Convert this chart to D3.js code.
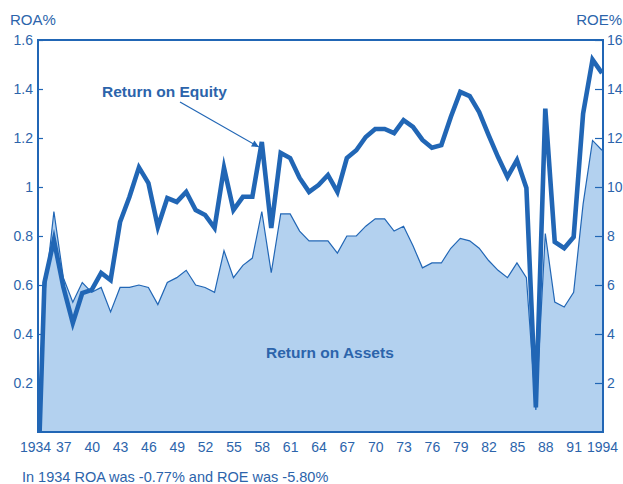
<!DOCTYPE html>
<html>
<head>
<meta charset="utf-8">
<script src="https://cdn.jsdelivr.net/npm/d3@7"></script>
<style>
  body { margin: 0; background: #fff; }
  svg { display: block; font-family: "Liberation Sans", Arial, sans-serif; }
</style>
</head>
<body>
<div id="chart"></div>
<script>
const years = [1934, 1935, 1936, 1937, 1938, 1939, 1940, 1941, 1942, 1943,
    1944, 1945, 1946, 1947, 1948, 1949, 1950, 1951, 1952, 1953,
    1954, 1955, 1956, 1957, 1958, 1959, 1960, 1961, 1962, 1963,
    1964, 1965, 1966, 1967, 1968, 1969, 1970, 1971, 1972, 1973,
    1974, 1975, 1976, 1977, 1978, 1979, 1980, 1981, 1982, 1983,
    1984, 1985, 1986, 1987, 1988, 1989, 1990, 1991, 1992, 1993, 1994];

const roa = [-0.77, 0.55, 0.90, 0.63, 0.53, 0.61, 0.57, 0.59, 0.49, 0.59,
    0.59, 0.60, 0.59, 0.52, 0.61, 0.63, 0.66, 0.60, 0.59, 0.57,
    0.74, 0.63, 0.68, 0.71, 0.90, 0.65, 0.89, 0.89, 0.82, 0.78,
    0.78, 0.78, 0.73, 0.80, 0.80, 0.84, 0.87, 0.87, 0.82, 0.84,
    0.76, 0.67, 0.69, 0.69, 0.75, 0.79, 0.78, 0.75, 0.70, 0.66,
    0.63, 0.69, 0.63, 0.09, 0.81, 0.53, 0.51, 0.57, 0.93, 1.19, 1.15];

const roe = [-5.80, 6.1, 7.84, 5.92, 4.45, 5.67, 5.8, 6.49, 6.2, 8.57,
    9.6, 10.8, 10.16, 8.37, 9.55, 9.39, 9.8, 9.06, 8.86, 8.33,
    10.78, 9.06, 9.6, 9.6, 11.84, 8.33, 11.39, 11.18, 10.37, 9.8,
    10.08, 10.49, 9.8, 11.18, 11.5, 12.04, 12.37, 12.37, 12.2, 12.73,
    12.45, 11.92, 11.6, 11.71, 12.86, 13.88, 13.71, 13.06, 12.12, 11.22,
    10.41, 11.1, 9.96, 1.0, 13.2, 7.76, 7.5, 7.96, 13.0, 15.2, 14.65];

const xTicks = [1934, 1937, 1940, 1943, 1946, 1949, 1952, 1955, 1958, 1961, 1964,
    1967, 1970, 1973, 1976, 1979, 1982, 1985, 1988, 1991, 1994];
const roaTicks = [0.2, 0.4, 0.6, 0.8, 1, 1.2, 1.4, 1.6];
const roeTicks = [2, 4, 6, 8, 10, 12, 14, 16];

const data = years.map((y, i) => ({ year: y, roa: roa[i], roe: roe[i] }));

const margin = { top: 40, right: 20, bottom: 52, left: 38 },
    width = 623 - margin.left - margin.right,
    height = 484 - margin.top - margin.bottom;

const blue = "#2166b5",
    textBlue = "#2c64ab",
    fillBlue = "#b3d1ef";

const svg = d3.select("#chart")
    .append("svg")
    .attr("width", 623)
    .attr("height", 484)
    .append("g")
    .attr("transform", `translate(${margin.left}, ${margin.top})`);

const x = d3.scaleLinear()
    .domain([1934, 1994])
    .range([-3, width - 1]);

const yL = d3.scaleLinear()
    .domain([0, 1.6])
    .range([height, 0]);

const yR = d3.scaleLinear()
    .domain([0, 16])
    .range([height, 0]);

svg.append("defs").append("clipPath")
    .attr("id", "plot")
    .append("rect")
    .attr("width", width)
    .attr("height", height);

const plot = svg.append("g").attr("clip-path", "url(#plot)");

// ROA shaded area with thin outline
plot.append("path")
    .datum(data)
    .attr("fill", fillBlue)
    .attr("d", d3.area()
        .x(d => x(d.year))
        .y0(yL(0))
        .y1(d => yL(d.roa)));

plot.append("path")
    .datum(data)
    .attr("fill", "none")
    .attr("stroke", blue)
    .attr("stroke-width", 1.2)
    .attr("d", d3.line()
        .x(d => x(d.year))
        .y(d => yL(d.roa)));

// ROE thick line
plot.append("path")
    .datum(data)
    .attr("fill", "none")
    .attr("stroke", blue)
    .attr("stroke-width", 4.6)
    .attr("stroke-linejoin", "miter")
    .attr("stroke-miterlimit", 6)
    .attr("d", d3.line()
        .x(d => x(d.year))
        .y(d => yR(d.roe)));

// frame
svg.append("rect")
    .attr("width", width)
    .attr("height", height)
    .attr("fill", "none")
    .attr("stroke", blue)
    .attr("stroke-width", 2);

// axes
const left = svg.append("g")
    .call(d3.axisLeft(yL).tickValues(roaTicks).tickSize(-5).tickPadding(5).tickFormat(d => String(d)));

const right = svg.append("g")
    .attr("transform", `translate(${width}, 0)`)
    .call(d3.axisRight(yR).tickValues(roeTicks).tickSize(-8).tickPadding(4));

const bottom = svg.append("g")
    .attr("transform", `translate(0, ${height})`)
    .call(d3.axisBottom(x).tickValues(xTicks).tickSize(0).tickPadding(10)
        .tickFormat(d => (d === 1934 || d === 1994) ? String(d) : String(d).slice(2)));

[left, right, bottom].forEach(g => {
    g.select(".domain").remove();
    g.selectAll("line").attr("stroke", blue).attr("stroke-width", 1.2);
    g.selectAll("text")
        .attr("fill", textBlue)
        .style("font-size", "14px")
        .style("font-family", "Liberation Sans, Arial, sans-serif");
});

svg.append("text")
    .attr("x", -28)
    .attr("y", -15)
    .attr("fill", textBlue)
    .style("font-size", "15px")
    .text("ROA%");

svg.append("text")
    .attr("x", 623 - margin.left - 1)
    .attr("y", -15)
    .attr("text-anchor", "end")
    .attr("fill", textBlue)
    .style("font-size", "15px")
    .text("ROE%");

// annotations
svg.append("defs").append("marker")
    .attr("id", "arrow")
    .attr("viewBox", "0 0 10 10")
    .attr("refX", 10)
    .attr("refY", 5)
    .attr("markerWidth", 9)
    .attr("markerHeight", 7)
    .attr("markerUnits", "userSpaceOnUse")
    .attr("orient", "auto")
    .append("path")
    .attr("d", "M0,0L10,5L0,10Z")
    .attr("fill", blue);

svg.append("text")
    .attr("x", 64)
    .attr("y", 57)
    .attr("fill", textBlue)
    .style("font-size", "15.5px")
    .style("font-weight", "bold")
    .text("Return on Equity");

svg.append("line")
    .attr("x1", 142)
    .attr("y1", 62)
    .attr("x2", x(1958) - 3)
    .attr("y2", yR(11.84) + 5)
    .attr("stroke", blue)
    .attr("stroke-width", 1.2)
    .attr("marker-end", "url(#arrow)");

svg.append("text")
    .attr("x", 228)
    .attr("y", 318)
    .attr("fill", textBlue)
    .style("font-size", "15.5px")
    .style("font-weight", "bold")
    .text("Return on Assets");

svg.append("text")
    .attr("x", -16)
    .attr("y", 442)
    .attr("fill", textBlue)
    .style("font-size", "14.5px")
    .text("In 1934 ROA was -0.77% and ROE was -5.80%");
</script>
</body>
</html>
